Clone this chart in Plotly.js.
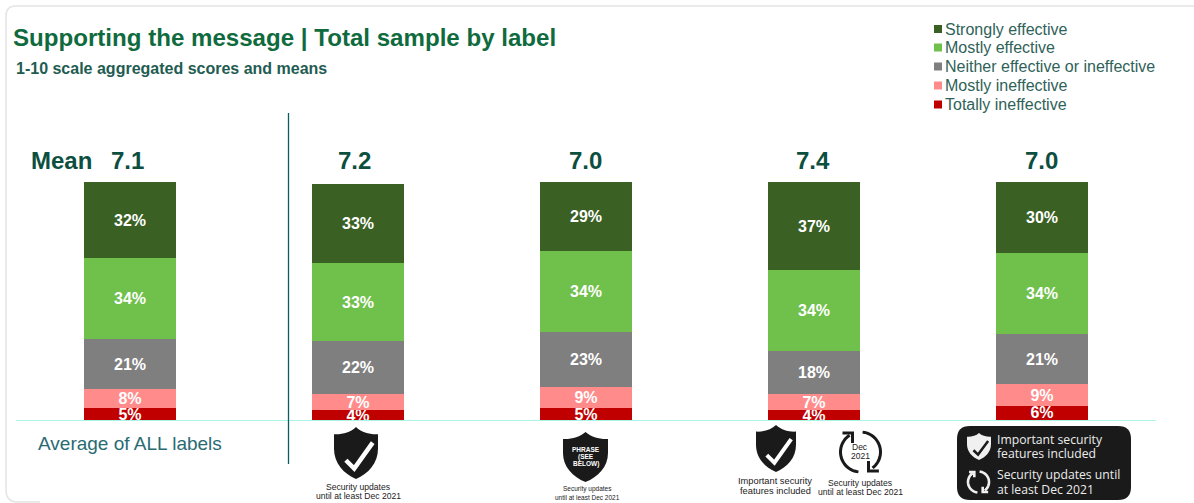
<!DOCTYPE html>
<html>
<head>
<meta charset="utf-8">
<script src="https://cdn.plot.ly/plotly-3.0.1.min.js"></script>
<style>html,body{margin:0;padding:0;background:#fff}#chart{width:1194px;height:503px}</style>
</head>
<body>
<div id="chart"></div>
<script>
// ---- data ----
const labels = ["Average of ALL labels", "Security updates", "Phrase", "Features and updates icons", "Features and updates panel"];
const means = ["7.1", "7.2", "7.0", "7.4", "7.0"];
const totallyIneffective = [5, 4, 5, 4, 6];
const mostlyIneffective = [8, 7, 9, 7, 9];
const neither = [21, 22, 23, 18, 21];
const mostlyEffective = [34, 33, 34, 34, 34];
const stronglyEffective = [32, 33, 29, 37, 30];
const seriesNames = ["Totally ineffective", "Mostly ineffective", "Neither effective or ineffective", "Mostly effective", "Strongly effective"];
const seriesColors = ["#c00000", "#ff8b8b", "#7f7f7f", "#70c04c", "#3a6123"];
const seriesValues = [totallyIneffective, mostlyIneffective, neither, mostlyEffective, stronglyEffective];

// ---- layout helpers (page pixels to paper fractions) ----
const W = 1194, H = 503, M = {t: 182, b: 83, l: 0, r: 0};
const PH = H - M.t - M.b;
const SANS = "Liberation Sans, Arial, sans-serif";
const fx = p => p / W;
const fy = p => (H - M.b - p) / PH;
const P = (x, y) => fx(x).toFixed(5) + "," + fy(y).toFixed(5);

const shapes = [];
const annotations = [];
function shape(path, fill, line, width) {
  shapes.push({type: "path", xref: "paper", yref: "paper", path,
    fillcolor: fill || "rgba(0,0,0,0)", line: {color: line || "rgba(0,0,0,0)", width: width || 0}});
}
function text(t, x, y, size, color, opt) {
  const o = opt || {};
  annotations.push({text: t, xref: "paper", yref: "paper", x: fx(x), y: fy(y), showarrow: false,
    xanchor: o.xanchor || "left", yanchor: "middle", borderpad: 0,
    font: {family: o.family || SANS, size, color, weight: o.weight || 400}});
}
function rect(x0, y0, x1, y1, fill) {
  shapes.push({type: "rect", xref: "paper", yref: "paper", x0: fx(x0), x1: fx(x1), y0: fy(y0), y1: fy(y1),
    fillcolor: fill, line: {width: 0}});
}
function rline(x0, y0, x1, y1, color, width) {
  shapes.push({type: "line", xref: "paper", yref: "paper", x0: fx(x0), x1: fx(x1), y0: fy(y0), y1: fy(y1),
    line: {color, width}});
}
function shield(x, y, w, h, fill) {
  const p = (u, v) => P(x + u * w, y + v * h);
  shape("M" + p(.5, 0) + "C" + p(.62, .1) + " " + p(.82, .15) + " " + p(1, .14) + "L" + p(1, .42) +
    "C" + p(1, .7) + " " + p(.78, .9) + " " + p(.5, 1) + "C" + p(.22, .9) + " " + p(0, .7) + " " + p(0, .42) +
    "L" + p(0, .14) + "C" + p(.18, .15) + " " + p(.38, .1) + " " + p(.5, 0) + "Z", fill);
}
function check(x, y, w, h, color, width) {
  const p = (u, v) => P(x + u * w, y + v * h);
  shape("M" + p(.27, .64) + "L" + p(.46, .8) + "L" + p(.88, .3), null, color, width);
}
function refresh(cx, cy, r, color, width) {
  const arc = (a0, a1) => {
    let s = "";
    for (let i = 0; i <= 24; i++) {
      const a = (a0 + (a1 - a0) * i / 24) * Math.PI / 180;
      s += (i ? "L" : "M") + P(cx + r * Math.cos(a), cy + r * Math.sin(a));
    }
    return s;
  };
  shape(arc(-84, 53), null, color, width);
  shape(arc(96, 237), null, color, width);
  shape("M" + P(cx + .4 * r, cy + .45 * r) + "L" + P(cx + .4 * r, cy + .95 * r) + "L" + P(cx + .92 * r, cy + .95 * r), null, color, width);
  shape("M" + P(cx - .4 * r, cy - .45 * r) + "L" + P(cx - .4 * r, cy - .95 * r) + "L" + P(cx - .9 * r, cy - .95 * r), null, color, width);
}
function roundBox(x0, y0, x1, y1, r, fill) {
  shape("M" + P(x0 + r, y0) + "L" + P(x1 - r, y0) + "Q" + P(x1, y0) + " " + P(x1, y0 + r) +
    "L" + P(x1, y1 - r) + "Q" + P(x1, y1) + " " + P(x1 - r, y1) + "L" + P(x0 + r, y1) +
    "Q" + P(x0, y1) + " " + P(x0, y1 - r) + "L" + P(x0, y0 + r) + "Q" + P(x0, y0) + " " + P(x0 + r, y0) + "Z", fill);
}

// ---- card outline ----
shape("M" + P(W, 6) + "L" + P(16, 6) + "Q" + P(6, 6) + " " + P(6, 16) + "L" + P(6, 490) + "Q" + P(6, 501) + " " + P(16, 502) + "L" + P(40, 502), null, "#e4e4e4", 1.5);

// ---- titles ----
text("Supporting the message | Total sample by label", 11.5, 37, 24.1, "#0f6b3e", {weight: 700});
text("1-10 scale aggregated scores and means", 15, 69, 16, "#1f5c52", {weight: 700});

// ---- legend ----
const legendY = [104.5, 85.5, 66.5, 47.5, 29];
seriesNames.forEach((n, i) => {
  rect(934, legendY[i] - 4, 942, legendY[i] + 4, seriesColors[i]);
  text(n, 944, legendY[i], 16, "#2f6259");
});

// ---- means ----
const meanShift = [-3, -4, -1, -1, -1];
text("Mean", 30, 160.5, 24, "#0c4f3f", {weight: 700});
labels.forEach((c, i) => annotations.push({text: means[i], xref: "x", yref: "paper", x: c, y: fy(160.5), showarrow: false,
  xanchor: "center", yanchor: "middle", xshift: meanShift[i], borderpad: 0,
  font: {family: SANS, size: 24, color: "#0c4f3f", weight: 700}}));

// ---- rules ----
rline(16, 420.5, 1156, 420.5, "#a8f5e6", 1.2);
rline(288.5, 113, 288.5, 464, "#0d5a62", 1.3);
text("Average of ALL labels", 37, 443, 19, "#2a6b73");

// ---- icons ----
const dark = "#1a1a1a", small = "#222222";
const mid = {xanchor: "center"};
const midBold = {xanchor: "center", weight: 700};

shield(334, 427, 44, 52, dark);
check(334, 427, 44, 52, "#fff", 4.5);
text("Security updates", 358, 487, 8.6, small, mid);
text("until at least Dec 2021", 358, 496, 8.6, small, mid);

shield(563, 432, 45, 50, dark);
text("PHRASE", 586, 449, 6.5, "#fff", midBold);
text("(SEE", 586, 456.5, 6.5, "#fff", midBold);
text("BELOW)", 586, 464, 6.5, "#fff", midBold);
text("Security updates", 587, 489, 6.5, small, mid);
text("until at least Dec 2021", 587, 497, 6.5, small, mid);

shield(756, 425, 40, 47, dark);
check(756, 425, 40, 47, "#fff", 4);
text("Important security", 775, 481, 9.3, small, mid);
text("features included", 775, 491, 9.3, small, mid);
refresh(860.5, 452, 20, dark, 3);
text("Dec", 860, 447, 8.5, small, mid);
text("2021", 860, 456, 8.5, small, mid);
text("Security updates", 860, 483, 8.6, small, mid);
text("until at least Dec 2021", 860, 492, 8.6, small, mid);

roundBox(957, 426, 1131, 500, 13, dark);
shield(967, 433, 24, 27, "#f0f0f0");
check(967, 433, 24, 27, dark, 2.5);
refresh(978.5, 482, 10.5, "#f0f0f0", 2.6);
[["Important security", 439], ["features included", 453], ["Security updates until", 474.5], ["at least Dec 2021", 489]]
  .forEach(r => text(r[0], 996, r[1], 12.2, "#ececec", {family: "Open Sans, Liberation Sans, sans-serif"}));

// ---- bars ----
const traces = seriesValues.map((vals, i) => ({
  type: "bar", name: seriesNames[i], x: labels, y: vals, width: 0.4,
  marker: {color: seriesColors[i], line: {width: 0}},
  text: vals.map(v => v + "%"), textposition: "inside", insidetextanchor: "middle",
  textangle: 0, constraintext: "none", cliponaxis: true,
  insidetextfont: {family: SANS, size: 16, color: "#ffffff", weight: 700},
  hoverinfo: "name+y"
}));

Plotly.newPlot("chart", traces, {
  width: W, height: H, barmode: "stack", showlegend: false,
  margin: {t: M.t, b: M.b, l: M.l, r: M.r, pad: 0},
  paper_bgcolor: "#ffffff", plot_bgcolor: "rgba(0,0,0,0)",
  xaxis: {type: "category", categoryorder: "array", categoryarray: labels, range: [-130 / 228, (W - 130) / 228],
    showticklabels: false, showgrid: false, zeroline: false, showline: false, ticks: "", fixedrange: true},
  yaxis: {range: [0, 100], showticklabels: false, showgrid: false, zeroline: false, showline: false, ticks: "", fixedrange: true},
  shapes, annotations
}, {displayModeBar: false, staticPlot: true});
</script>
</body>
</html>
